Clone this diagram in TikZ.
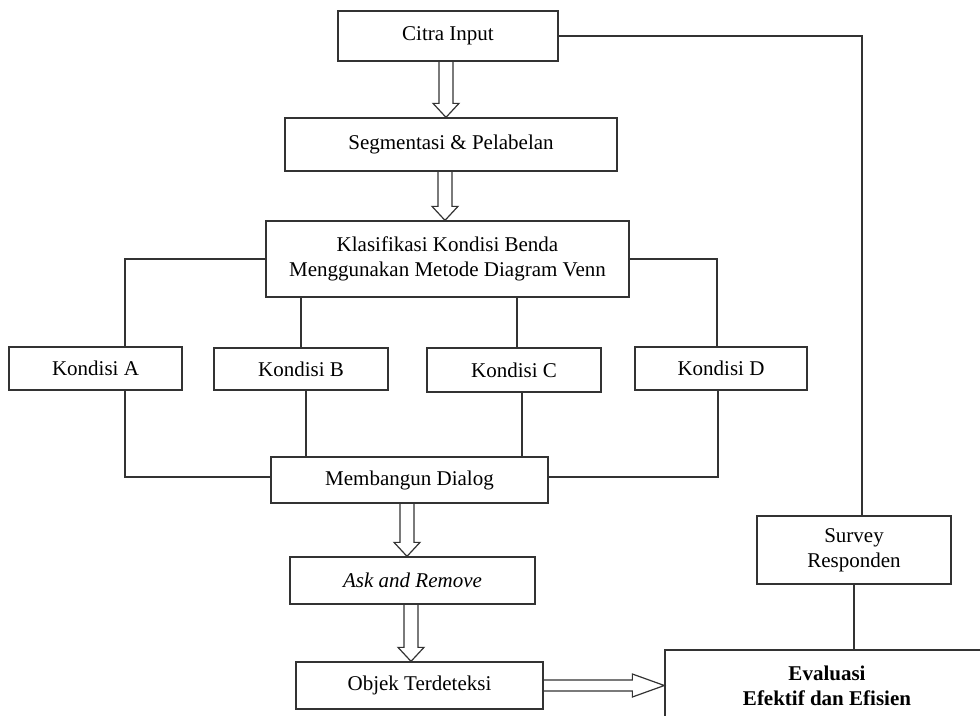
\documentclass[tikz,border=0pt]{standalone}
\usepackage{fontspec}
\setmainfont{Liberation Serif}
\usetikzlibrary{calc}
\definecolor{linec}{HTML}{333333}
\begin{document}
\begin{tikzpicture}[x=1pt,y=-1pt,
  box/.style={draw=linec, line width=1.3pt, fill=white, align=center, inner sep=0pt, font=\fontsize{21}{25}\selectfont},
  conn/.style={draw=linec, line width=1.3pt},
  hollowdown/.style={draw=linec, line width=1.2pt, line join=miter,
    to path={let \p1=(\tikztostart), \p2=(\tikztotarget) in
      (\x1-7pt,\y1) -- (\x1-7pt,\y2+14pt) -- (\x1-13pt,\y2+14pt) -- (\x1,\y2)
      -- (\x1+13pt,\y2+14pt) -- (\x1+7pt,\y2+14pt) -- (\x1+7pt,\y1)}},
  hollowright/.style={draw=linec, line width=1.2pt, line join=miter,
    to path={let \p1=(\tikztostart), \p2=(\tikztotarget) in
      (\x1,\y1+5.5pt) -- (\x2-32pt,\y1+5.5pt) -- (\x2-32pt,\y1+11.5pt) -- (\x2,\y1)
      -- (\x2-32pt,\y1-11.5pt) -- (\x2-32pt,\y1-5.5pt) -- (\x1,\y1-5.5pt)}},
]
\useasboundingbox (0,0) rectangle (980,715);

\node[box, minimum width=220, minimum height=50] (citra) at (448,36) {Citra Input};
\node[box, minimum width=332, minimum height=53] (seg) at (451,144.5) {Segmentasi \& Pelabelan};
\node[box, minimum width=363, minimum height=76] (klas) at (447.5,259) {Klasifikasi Kondisi Benda\\Menggunakan Metode Diagram Venn};
\node[box, minimum width=173, minimum height=43] (kA) at (95.5,368.5) {Kondisi A};
\node[box, minimum width=174, minimum height=42] (kB) at (301,369) {Kondisi B};
\node[box, minimum width=174, minimum height=44] (kC) at (514,370) {Kondisi C};
\node[box, minimum width=172, minimum height=43] (kD) at (721,368.5) {Kondisi D};
\node[box, minimum width=277, minimum height=46] (memb) at (409.5,480) {Membangun Dialog};
\node[box, minimum width=245, minimum height=47] (ask) at (412.5,580.5) {\textit{Ask and Remove}};
\node[box, minimum width=247, minimum height=47] (objek) at (419.5,685.5) {Objek Terdeteksi};
\node[box, minimum width=194, minimum height=68] (survey) at (854,550) {Survey\\Responden};
\begin{scope}
  \clip (0,0) rectangle (980,715);
  \node[box, minimum width=324, minimum height=71] (eval) at (827,685.5) {\textbf{Evaluasi}\\\textbf{Efektif dan Efisien}};
\end{scope}

% hollow arrows
\draw[hollowdown] ($(citra.south)+(-2,0)$) to (seg.north);
\draw[hollowdown] ($(seg.south)+(-6,0)$) to (klas.north);
\draw[hollowdown] ($(memb.south)+(-2.5,0)$) to (ask.north);
\draw[hollowdown] ($(ask.south)+(-1.5,0)$) to (objek.north);
\draw[hollowright] (objek.east) to (eval.west);

% classification branches
\draw[conn] (klas.west) -| ($(kA.north)+(29.5,0)$);
\draw[conn] (klas.east) -| ($(kD.north)+(-4,0)$);
\draw[conn] (klas.south -| kB.north) -- (kB.north);
\draw[conn] ($(klas.south -| kC.north)+(3,0)$) -- ($(kC.north)+(3,0)$);

% merge into dialog
\draw[conn] ($(kA.south)+(29.5,0)$) |- ($(memb.west)+(0,-3)$);
\draw[conn] ($(kB.south)+(5,0)$) -- ($(memb.north -| kB.south)+(5,0)$);
\draw[conn] ($(kC.south)+(8,0)$) -- ($(memb.north -| kC.south)+(8,0)$);
\draw[conn] ($(kD.south)+(-3,0)$) |- ($(memb.east)+(0,-3)$);

% survey links
\draw[conn] (citra.east) -| ($(survey.north)+(8,0)$);
\draw[conn] (survey.south) -- (survey.south |- eval.north);
\end{tikzpicture}
\end{document}
